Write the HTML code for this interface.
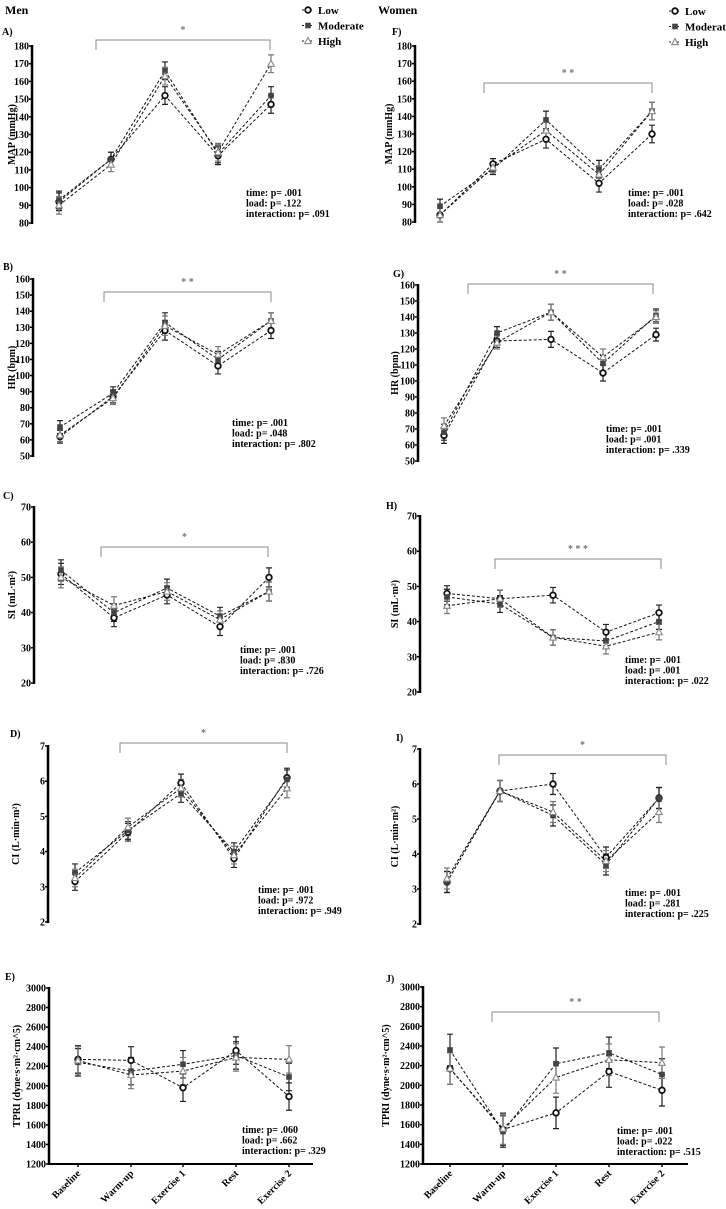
<!DOCTYPE html>
<html><head><meta charset="utf-8">
<style>
html,body{margin:0;padding:0;background:#fff;}
svg{display:block;font-family:"Liberation Serif",serif;font-weight:bold;}
</style></head>
<body>
<svg id="fig" width="726" height="1209" viewBox="0 0 726 1209" xmlns="http://www.w3.org/2000/svg">
<text x="5" y="14" font-size="12">Men</text>
<text x="378" y="14" font-size="12">Women</text>
<g id="legends"></g>
<g id="panels"></g>
</svg>
<script>
const categories=["Baseline","Warm-up","Exercise 1","Rest","Exercise 2"];
const seriesNames=["Low","Moderate","High"];
// Panel A (Men MAP)
const aLow=[92,116,152,118,147], aMod=[93,116,166,119,152], aHigh=[90,113,163,120,170], aErr=[5,4,5,5,5];
const aTicks=[80,90,100,110,120,130,140,150,160,170,180];
// Panel B (Men HR)
const bLow=[62,87,128,106,128], bMod=[68,89,133,110,134], bHigh=[63,86,131,113,134], bErr=[4,4,6,5,5];
const bTicks=[50,60,70,80,90,100,110,120,130,140,150,160];
// Panel C (Men SI)
const cLow=[51,38.5,45,36,50], cMod=[52,40,47,39,46], cHigh=[50,42,46,38,46], cErr=[3,2.5,2.5,2.5,2.7];
const cTicks=[20,30,40,50,60,70];
// Panel D (Men CI)
const dLow=[3.15,4.55,5.95,3.8,6.1], dMod=[3.4,4.6,5.65,4.0,6.05], dHigh=[3.25,4.7,5.8,3.9,5.8], dErr=[0.25,0.25,0.25,0.25,0.27];
const dTicks=[2,3,4,5,6,7];
// Panel E (Men TPRI)
const eLow=[2270,2260,1980,2360,1890], eMod=[2240,2150,2220,2310,2090], eHigh=[2260,2110,2150,2290,2270], eErr=[140,140,140,140,140];
const eTicks=[1200,1400,1600,1800,2000,2200,2400,2600,2800,3000];
// Panel F (Women MAP)
const fLow=[84,113,127,102,130], fMod=[89,110,138,110,143], fHigh=[84,111,132,107,143], fErr=[4,3,5,5,5];
const fTicks=[80,90,100,110,120,130,140,150,160,170,180];
// Panel G (Women HR)
const gLow=[66,125,126,105,129], gMod=[68,130,143,111,141], gHigh=[72,124,143,115,140], gErr=[5,4,5,5,4];
const gTicks=[50,60,70,80,90,100,110,120,130,140,150,160];
// Panel H (Women SI)
const hLow=[48,46.5,47.5,37,42.5], hMod=[47,45,35.5,34.5,40], hHigh=[44.5,46.5,35.5,33,37], hErr=[2.2,2.4,2.2,2.2,2.2];
const hTicks=[20,30,40,50,60,70];
// Panel I (Women CI)
const iLow=[3.2,5.8,6.0,3.9,5.6], iMod=[3.2,5.8,5.1,3.7,5.6], iHigh=[3.3,5.8,5.2,3.8,5.2], iErr=[0.3,0.3,0.3,0.3,0.3];
const iTicks=[2,3,4,5,6,7];
// Panel J (Women TPRI)
const jLow=[2170,1550,1720,2140,1950], jMod=[2360,1530,2220,2330,2110], jHigh=[2170,1560,2080,2260,2230], jErr=[160,160,160,160,160];
const jTicks=[1200,1400,1600,1800,2000,2200,2400,2600,2800,3000];

const NS="http://www.w3.org/2000/svg";
function mk(tag,attrs,parent){const e=document.createElementNS(NS,tag);for(const k in attrs)e.setAttribute(k,attrs[k]);if(parent)parent.appendChild(e);return e;}

const panels=[
 {id:"a",letter:"A)",lx:2,ly:35,ax:32,top:46,bot:223,xs:[59,111,165,218,271],lo:aLow,mo:aMod,hi:aHigh,er:aErr,ticks:aTicks,ylab:"MAP (mmHg)",ylx:12,br:[96,270,40],star:"*",stx:246,sty:196,stats:["time: p= .001","load: p= .122","interaction: p= .091"]},
 {id:"b",letter:"B)",lx:3,ly:270,ax:33,top:279,bot:456,xs:[60,113,165,218,271],lo:bLow,mo:bMod,hi:bHigh,er:bErr,ticks:bTicks,ylab:"HR (bpm)",ylx:12,br:[104,271,292],star:"* *",stx:232,sty:426,stats:["time: p= .001","load: p= .048","interaction: p= .802"]},
 {id:"c",letter:"C)",lx:3,ly:499,ax:34,top:507,bot:683,xs:[61,114,167,220,269],lo:cLow,mo:cMod,hi:cHigh,er:cErr,ticks:cTicks,ylab:"SI (mL·m²)",ylx:12,br:[101,268,547],star:"*",stx:240,sty:653,stats:["time: p= .001","load: p= .830","interaction: p= .726"]},
 {id:"d",letter:"D)",lx:10,ly:737,ax:48,top:746,bot:922,xs:[75,128,181,234,287],lo:dLow,mo:dMod,hi:dHigh,er:dErr,ticks:dTicks,ylab:"CI (L·min·m²)",ylx:16,br:[120,287,743],star:"*",stx:258,sty:893,stats:["time: p= .001","load: p= .972","interaction: p= .949"]},
 {id:"e",letter:"E)",lx:5,ly:980,ax:49,top:988,bot:1164,xs:[78,131,183,236,289],lo:eLow,mo:eMod,hi:eHigh,er:eErr,ticks:eTicks,ylab:"TPRI (dyne·s·m²·cm^5)",ylx:17,br:null,stx:242,sty:1133,stats:["time: p= .060","load: p= .662","interaction: p= .329"],xaxis:313},
 {id:"f",letter:"F)",lx:392,ly:35,ax:415,top:46,bot:222,xs:[440,493,546,599,652],lo:fLow,mo:fMod,hi:fHigh,er:fErr,ticks:fTicks,ylab:"MAP (mmHg)",ylx:389,br:[484,652,83],star:"* *",stx:628,sty:196,stats:["time: p= .001","load: p= .028","interaction: p= .642"]},
 {id:"g",letter:"G)",lx:393,ly:277,ax:418,top:285,bot:461,xs:[444,497,551,603,656],lo:gLow,mo:gMod,hi:gHigh,er:gErr,ticks:gTicks,ylab:"HR (bpm)",ylx:395,br:[468,653,284],star:"* *",stx:606,sty:432,stats:["time: p= .001","load: p= .001","interaction: p= .339"]},
 {id:"h",letter:"H)",lx:386,ly:509,ax:420,top:516,bot:692,xs:[447,500,553,606,659],lo:hLow,mo:hMod,hi:hHigh,er:hErr,ticks:hTicks,ylab:"SI (mL·m²)",ylx:395,br:[495,661,559],star:"* * *",stx:625,sty:663,stats:["time: p= .001","load: p= .001","interaction: p= .022"]},
 {id:"i",letter:"I)",lx:396,ly:741,ax:420,top:749,bot:924,xs:[447,500,553,606,659],lo:iLow,mo:iMod,hi:iHigh,er:iErr,ticks:iTicks,ylab:"CI (L·min·m²)",ylx:395,br:[499,666,755],star:"*",stx:625,sty:896,stats:["time: p= .001","load: p= .281","interaction: p= .225"]},
 {id:"j",letter:"J)",lx:386,ly:982,ax:423,top:987,bot:1164,xs:[450,503,556,609,662],lo:jLow,mo:jMod,hi:jHigh,er:jErr,ticks:jTicks,ylab:"TPRI (dyne·s·m²·cm^5)",ylx:386,br:[492,659,1012],star:"* *",stx:617,sty:1134,stats:["time: p= .001","load: p= .022","interaction: p= .515"],xaxis:688}
];

const root=document.getElementById("panels");
function marker(g,kind,x,y){
 let m;
 if(kind===0){m=mk("circle",{cx:x,cy:y,r:2.8,fill:"#fff",stroke:"#111","stroke-width":1.8},g);}
 else if(kind===1){m=mk("rect",{x:x-2.8,y:y-2.8,width:5.6,height:5.6,fill:"#444"},g);}
 else {m=mk("polygon",{points:`${x},${y-3.5} ${x-3.3},${y+2.6} ${x+3.3},${y+2.6}`,fill:"#fff",stroke:"#888","stroke-width":1.1},g);}
 return m;
}
panels.forEach(p=>{
 const g=mk("g",{},root);
 
 
 const t0=p.ticks[0],t1=p.ticks[p.ticks.length-1];
 const Y=v=>p.bot-(v-t0)/(t1-t0)*(p.bot-p.top);
 const lt=mk("text",{x:p.lx,y:p.ly,"font-size":10},g);lt.textContent=p.letter;
 
 
 const ax=mk("line",{x1:p.ax,y1:p.top-1,x2:p.ax,y2:p.bot+1,stroke:"#000","stroke-width":2.5},g);
 
 
 p.ticks.forEach(v=>{
  mk("line",{x1:p.ax-3,y1:Y(v),x2:p.ax,y2:Y(v),stroke:"#000","stroke-width":1.5},g);
  const tl=mk("text",{x:p.ax-3,y:Y(v)+3.5,"font-size":10,"text-anchor":"end"},g);tl.textContent=v;
  
  
 });
 const cy=(p.top+p.bot)/2;
 const yl=mk("text",{x:p.ylx,y:cy,"font-size":10,"text-anchor":"middle",transform:`rotate(-90 ${p.ylx} ${cy})`,dy:"3"},g);yl.textContent=p.ylab;
 
 
 if(p.xaxis){
  const xa=mk("line",{x1:p.ax,y1:p.bot,x2:p.xaxis,y2:p.bot,stroke:"#000","stroke-width":2},g);
  
  
  p.xs.forEach((x,i)=>{
   mk("line",{x1:x,y1:p.bot,x2:x,y2:p.bot+3,stroke:"#000","stroke-width":1.5},g);
   const xl=mk("text",{x:x+3,y:p.bot+10,"font-size":10,"text-anchor":"end",transform:`rotate(-45 ${x+3} ${p.bot+10})`},g);xl.textContent=categories[i];
   
   
  });
 }
 if(p.br){
  const [x1,x2,by]=p.br;
  const b=mk("path",{d:`M${x1},${by+10}V${by}H${x2}V${by+10}`,fill:"none",stroke:"#888","stroke-width":1},g);
  
  
  const s=mk("text",{x:(x1+x2)/2,y:by-7,"font-size":10,"text-anchor":"middle",fill:"#777"},g);s.textContent=p.star;
  
  
 }
 const sers=[p.lo,p.mo,p.hi];
 sers.forEach((s,k)=>{
  const pl=mk("polyline",{points:s.map((v,i)=>p.xs[i]+","+Y(v)).join(" "),fill:"none",stroke:"#111","stroke-width":1,"stroke-dasharray":"3,2"},g);
  
  
 });
 sers.forEach((s,k)=>{
  s.forEach((v,i)=>{
   const x=p.xs[i],e=p.er[i];
   const col=k===2?"#777":"#222";
   mk("path",{d:`M${x},${Y(v+e)}V${Y(v-e)}M${x-3},${Y(v+e)}H${x+3}M${x-3},${Y(v-e)}H${x+3}`,stroke:col,"stroke-width":1.2,fill:"none"},g);
  });
 });
 sers.forEach((s,k)=>{
  s.forEach((v,i)=>{
   const m=marker(g,k,p.xs[i],Y(v));
   
   
  });
 });
 p.stats.forEach((s,i)=>{
  const st=mk("text",{x:p.stx,y:p.sty+i*10.5,"font-size":10},g);st.textContent=s;
  
  
 });
});
const lg=document.getElementById("legends");
[[308,318,10],[675,685,11]].forEach(([mx,tx,y0])=>{
 seriesNames.forEach((n,k)=>{
  const y=y0+k*15.5;
  mk("line",{x1:mx-6,y1:y,x2:mx+6,y2:y,stroke:"#111","stroke-width":1,"stroke-dasharray":"2,2"},lg);
  const m=marker(lg,k,mx,y);
  
  
  const t=mk("text",{x:tx,y:y+4,"font-size":11},lg);t.textContent=n;
  
  
 });
});
</script>
</body></html>
